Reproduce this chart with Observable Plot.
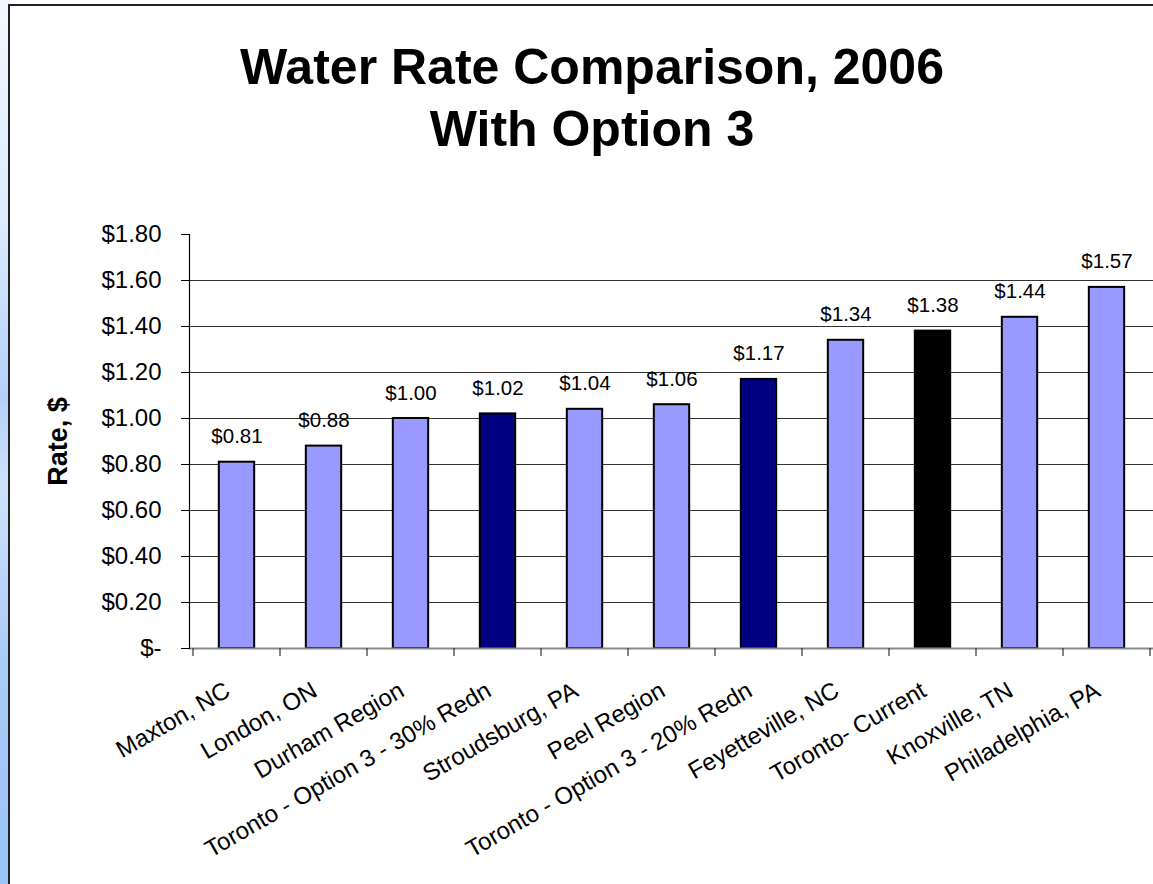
<!DOCTYPE html>
<html>
<head>
<meta charset="utf-8">
<script src="https://cdn.jsdelivr.net/npm/d3@7"></script>
<script src="https://cdn.jsdelivr.net/npm/@observablehq/plot@0.6"></script>
<style>
  html, body { margin: 0; padding: 0; width: 1153px; height: 884px; overflow: hidden; background: #fff; }
  #strip { position: absolute; left: 0; top: 0; width: 9px; height: 884px;
    background: linear-gradient(to bottom, #f2f8ff 0%, #dcebfd 25%, #b3d1f9 45%, #cfe2fc 55%, #a9cbf8 75%, #9cc2f6 100%); }
  #frame { position: absolute; left: 8px; top: 4px; width: 1160px; height: 900px; border: 2px solid #222; box-sizing: border-box; }
  #title { position: absolute; left: 0; top: 36px; width: 1184px; text-align: center;
    font-family: "Liberation Sans", Arial, sans-serif; font-weight: bold; font-size: 50px; line-height: 62px; color: #000; }
  #chart { position: absolute; left: 0; top: 180px; }
</style>
</head>
<body>
<div id="strip"></div>
<div id="frame"></div>
<div id="title">Water Rate Comparison, 2006<br>With Option 3</div>
<div id="chart"></div>
<script>
const categories = ["Maxton, NC", "London, ON", "Durham Region", "Toronto - Option 3 - 30% Redn", "Stroudsburg, PA", "Peel Region", "Toronto - Option 3 - 20% Redn", "Feyetteville, NC", "Toronto- Current", "Knoxville, TN", "Philadelphia, PA"];
const values = [0.81, 0.88, 1.00, 1.02, 1.04, 1.06, 1.17, 1.34, 1.38, 1.44, 1.57];
const groups = ["Other", "Other", "Other", "Option 3", "Other", "Other", "Option 3", "Other", "Current", "Other", "Other"];
const yTicks = [0, 0.2, 0.4, 0.6, 0.8, 1.0, 1.2, 1.4, 1.6, 1.8];
const gridValues = [0.2, 0.4, 0.6, 0.8, 1.0, 1.2, 1.4, 1.6];
const yLabel = "Rate, $";

const data = categories.map((c, i) => ({ name: c, value: values[i], group: groups[i] }));
const fmt = v => v === 0 ? "$-" : "$" + v.toFixed(2);

const width = 1153, height = 704, marginLeft = 189, marginRight = 0, marginTop = 54, marginBottom = 236;
const step = (width - marginLeft - marginRight) / categories.length;
const barInset = (step - 36) / 2;

const chart = Plot.plot({
  width, height, marginLeft, marginRight, marginTop, marginBottom,
  style: { fontFamily: "'Liberation Sans', Arial, sans-serif", fontSize: "22px", background: "transparent", color: "#000", overflow: "visible" },
  x: { domain: categories, padding: 0, axis: null },
  y: { domain: [0, 1.8], axis: null },
  color: { domain: ["Other", "Option 3", "Current"], range: ["#9999ff", "#000080", "#000000"] },
  marks: [
    Plot.ruleY(gridValues, { stroke: "#333", strokeWidth: 1 }),
    Plot.barY(data, { x: "name", y: "value", fill: "group", stroke: "#000", strokeWidth: 2, insetLeft: barInset, insetRight: barInset }),
    Plot.ruleY([0], { stroke: "#8a8a8a", strokeWidth: 2 }),
    Plot.frame({ anchor: "left", stroke: "#000", strokeWidth: 1.2 }),
    Plot.axisY({ ticks: yTicks, tickFormat: fmt, tickSize: 8, tickPadding: 20, fontSize: 24, label: null, stroke: "#000" }),
    Plot.text(data, { x: "name", y: "value", text: d => fmt(d.value), lineAnchor: "bottom", dy: -19, fontSize: 20.5, fill: "#000" }),
    Plot.text(data, { x: "name", text: "name", frameAnchor: "bottom", rotate: -30, textAnchor: "end", lineAnchor: "middle", dx: -9, dy: 40, fontSize: 24, fill: "#000" }),
    Plot.text([yLabel], { text: d => d, frameAnchor: "left", rotate: -90, textAnchor: "middle", lineAnchor: "middle", dx: -131, fontSize: 27, fontWeight: "bold", fill: "#000" })
  ]
});

// Category tick marks between bands (Excel style)
const xs = chart.scale("x");
const svg = d3.select(chart);
const y0 = height - marginBottom;
const bounds = categories.map(c => xs.apply(c)).concat([xs.apply(categories[categories.length - 1]) + xs.step]);
svg.append("g").selectAll("line").data(bounds).join("line")
  .attr("x1", d => d).attr("x2", d => d)
  .attr("y1", y0).attr("y2", y0 + 8)
  .attr("stroke", "#333").attr("stroke-width", 1.2);

document.getElementById("chart").appendChild(chart);
</script>
</body>
</html>
